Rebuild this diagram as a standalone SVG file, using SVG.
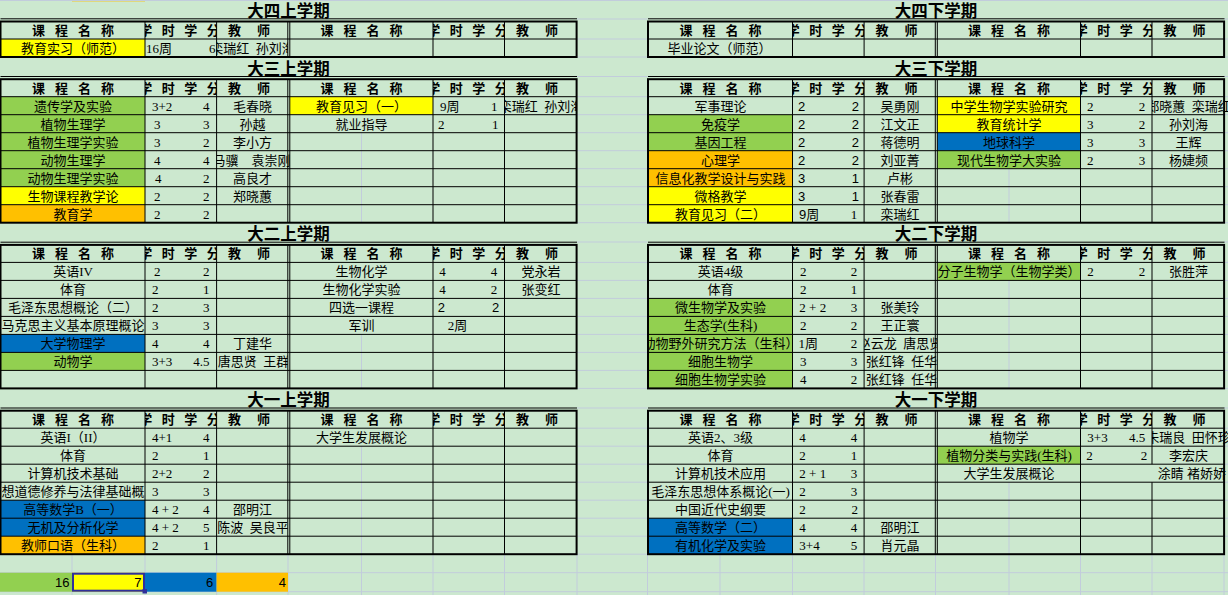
<svg xmlns="http://www.w3.org/2000/svg" width="1228" height="595" viewBox="0 0 1228 595">
<style>
.bg{fill:#CCE8CF}
.fg{fill:#92D050}.fy{fill:#FFFF00}.fo{fill:#FFC000}.fb{fill:#0070C0}
.ln{stroke:#000;stroke-width:1;fill:none}
.bd{stroke:#000;stroke-width:2;fill:none}
.gr{stroke:#C2CCDC;stroke-width:1;fill:none}
text{fill:#000}
.t{font-family:"Noto Sans CJK SC",sans-serif;font-size:16.5px;font-weight:700;text-anchor:middle}
.h{font-family:"Noto Sans CJK SC",sans-serif;font-size:13px;font-weight:700;text-anchor:middle}
.c{font-family:"Liberation Serif","Noto Sans CJK SC",sans-serif;font-size:13px;text-anchor:middle}
.n{font-family:"Liberation Serif","Noto Sans CJK SC",sans-serif;font-size:13px}
.e{text-anchor:end}
.s{font-family:"Liberation Sans","Noto Sans CJK SC",sans-serif}
</style>
<defs>
<clipPath id="cA"><rect x="1" y="-40" width="144" height="200"/></clipPath>
<clipPath id="cAh"><rect x="145" y="-40" width="71.6" height="200"/></clipPath>
<clipPath id="cAt"><rect x="216.6" y="-40" width="71.2" height="200"/></clipPath>
<clipPath id="cAt2"><rect x="216.6" y="-40" width="76.4" height="200"/></clipPath>
<clipPath id="cAt3"><rect x="216.6" y="-40" width="72.7" height="200"/></clipPath>
<clipPath id="cB"><rect x="289.8" y="-40" width="143.2" height="200"/></clipPath>
<clipPath id="cBh"><rect x="433" y="-40" width="71.5" height="200"/></clipPath>
<clipPath id="cBt"><rect x="504.5" y="-40" width="72.1" height="200"/></clipPath>
<clipPath id="cBt2"><rect x="504.5" y="-40" width="200" height="200"/></clipPath>
</defs>
<rect class="bg" x="0" y="0" width="1228" height="595"/>
<g id="gridlines">
<rect x="72" y="0" width="73" height="1.4" class="fo"/>
<path class="gr" d="M0,0.5H1228
M577,19H647.5M577,39H647.5M577,57H647.5M577,76.5H647.5M577,96.7H647.5M577,114.7H647.5M577,132.7H647.5M577,150.7H647.5M577,168.7H647.5M577,186.7H647.5M577,204.7H647.5M577,222.7H647.5
M577,242H647.5M577,262.4H647.5M577,280.4H647.5M577,298.4H647.5M577,316.4H647.5M577,334.4H647.5M577,352.4H647.5M577,370.4H647.5M577,388.4H647.5
M577,408H647.5M577,428.2H647.5M577,446.2H647.5M577,464.2H647.5M577,482.2H647.5M577,500.2H647.5M577,518.2H647.5M577,536.2H647.5M577,554.2H647.5
M1224,19H1228M1224,39H1228M1224,57H1228M1224,76.5H1228M1224,96.7H1228M1224,114.7H1228M1224,132.7H1228M1224,150.7H1228M1224,168.7H1228M1224,186.7H1228M1224,204.7H1228M1224,222.7H1228
M1224,242H1228M1224,262.4H1228M1224,280.4H1228M1224,298.4H1228M1224,316.4H1228M1224,334.4H1228M1224,352.4H1228M1224,370.4H1228M1224,388.4H1228
M1224,408H1228M1224,428.2H1228M1224,446.2H1228M1224,464.2H1228M1224,482.2H1228M1224,500.2H1228M1224,518.2H1228M1224,536.2H1228
M0,572.7H1228M0,591.7H1228
M72,555V595M145,555V595M216.6,555V595M288,555V595M361.5,555V595M433,555V595M504.5,555V595M577,555V595M647.5,555V595M720,555V595M792.5,555V595M864,555V595M935.5,555V595M1009,555V595M1080.5,555V595M1152,555V595M1224,555V595"/>
</g>

<g id="sem-4-1" transform="translate(0,39)">
<rect class="fy" x="0.5" y="0" width="144.5" height="18"/>
<path class="ln" d="M0.5,-20.2H577M145,-17.5V18M216.6,-17.5V18M287.8,-17.5V18M289.8,-17.5V18M433,-17.5V18M504.5,-17.5V18M0.5,0H576.6"/>
<rect class="bd" x="0.5" y="-17.5" width="576.1" height="35.5"/>
<text class="t" x="288.5" y="-22">大四上学期</text>
<text class="h" x="38.5 61.5 84.5 107.5" y="-4">课程名称</text>
<text class="h" x="145.8 168.3 190.8 213.3" y="-4" clip-path="url(#cAh)">学时学分</text>
<text class="h" x="234.5 263.5" y="-4">教师</text>
<text class="h" x="327 350 373 396" y="-4">课程名称</text>
<text class="h" x="433.75 456.25 478.75 501.25" y="-4" clip-path="url(#cBh)">学时学分</text>
<text class="h" x="522.5 551.5" y="-4">教师</text>
<text class="c" x="73" y="14">教育实习（师范）</text>
<text class="n" x="146" y="14">16周</text>
<text class="n e" x="215.5" y="14" clip-path="url(#cAh)">6</text>
<text class="c" x="252.5" y="14" clip-path="url(#cAt)">栾瑞红&#8194;孙刘海</text>
</g>

<g id="sem-4-2" transform="translate(647.5,39)">
<path class="ln" d="M0.5,-20.2H577M145,-17.5V18M216.6,-17.5V18M287.8,-17.5V18M289.8,-17.5V18M433,-17.5V18M504.5,-17.5V18M0.5,0H576.6"/>
<rect class="bd" x="0.5" y="-17.5" width="576.1" height="35.5"/>
<text class="t" x="288.5" y="-22">大四下学期</text>
<text class="h" x="38.5 61.5 84.5 107.5" y="-4">课程名称</text>
<text class="h" x="145.8 168.3 190.8 213.3" y="-4" clip-path="url(#cAh)">学时学分</text>
<text class="h" x="234.5 263.5" y="-4">教师</text>
<text class="h" x="327 350 373 396" y="-4">课程名称</text>
<text class="h" x="433.75 456.25 478.75 501.25" y="-4" clip-path="url(#cBh)">学时学分</text>
<text class="h" x="522.5 551.5" y="-4">教师</text>
<text class="c" x="72" y="14">毕业论文（师范）</text>
</g>

<g id="sem-3-1" transform="translate(0,96.7)">
<rect class="fg" x="0.5" y="0" width="144.5" height="90"/>
<rect class="fy" x="0.5" y="90" width="144.5" height="18"/>
<rect class="fo" x="0.5" y="108" width="144.5" height="18"/>
<rect class="fy" x="289.8" y="0" width="143.2" height="18"/>
<path class="gr" d="M361.5,36V126"/>
<path class="ln" d="M0.5,-20.2H577M145,-17.5V126M216.6,-17.5V126M287.8,-17.5V126M289.8,-17.5V126M433,-17.5V126M504.5,-17.5V126M0.5,0H576.6M0.5,18H576.6M0.5,36H576.6M0.5,54H576.6M0.5,72H576.6M0.5,90H576.6M0.5,108H576.6"/>
<rect class="bd" x="0.5" y="-17.5" width="576.1" height="143.5"/>
<text class="t" x="288.5" y="-22">大三上学期</text>
<text class="h" x="38.5 61.5 84.5 107.5" y="-4">课程名称</text>
<text class="h" x="145.8 168.3 190.8 213.3" y="-4" clip-path="url(#cAh)">学时学分</text>
<text class="h" x="234.5 263.5" y="-4">教师</text>
<text class="h" x="327 350 373 396" y="-4">课程名称</text>
<text class="h" x="433.75 456.25 478.75 501.25" y="-4" clip-path="url(#cBh)">学时学分</text>
<text class="h" x="522.5 551.5" y="-4">教师</text>
<text class="c" x="73" y="14">遗传学及实验</text><text class="n" x="152" y="14">3+2</text><text class="n e" x="209.5" y="14">4</text><text class="c" x="252.5" y="14">毛春晓</text>
<text class="c" x="73" y="32">植物生理学</text><text class="n" x="154" y="32">3</text><text class="n e" x="209.5" y="32">3</text><text class="c" x="252.5" y="32">孙越</text>
<text class="c" x="73" y="50">植物生理学实验</text><text class="n" x="154" y="50">3</text><text class="n e" x="209.5" y="50">2</text><text class="c" x="252.5" y="50">李小方</text>
<text class="c" x="73" y="68">动物生理学</text><text class="n" x="154" y="68">4</text><text class="n e" x="209.5" y="68">4</text><text class="c" x="251.5" y="68" clip-path="url(#cAt2)">马骥　袁崇刚</text>
<text class="c" x="73" y="86">动物生理学实验</text><text class="n" x="155" y="86">4</text><text class="n e" x="209.5" y="86">2</text><text class="c" x="252.5" y="86">高良才</text>
<text class="c" x="73" y="104">生物课程教学论</text><text class="n" x="154" y="104">2</text><text class="n e" x="209.5" y="104">2</text><text class="c" x="252.5" y="104">郑晓蕙</text>
<text class="c" x="73" y="122">教育学</text><text class="n" x="154" y="122">2</text><text class="n e" x="209.5" y="122">2</text>
<text class="c" x="361.5" y="14">教育见习（一）</text><text class="n" x="440" y="14">9周</text><text class="n e" x="497.5" y="14">1</text><text class="c" x="541" y="14" clip-path="url(#cBt)">栾瑞红&#8194;孙刘海</text>
<text class="c" x="361.5" y="32">就业指导</text><text class="n" x="438" y="32">2</text><text class="n e" x="498.5" y="32">1</text>
</g>

<g id="sem-3-2" transform="translate(647.5,96.7)">
<rect class="fg" x="0.5" y="18" width="144.5" height="36"/>
<rect class="fo" x="0.5" y="54" width="144.5" height="36"/>
<rect class="fy" x="0.5" y="90" width="144.5" height="36"/>
<rect class="fy" x="289.8" y="0" width="143.2" height="36"/>
<rect class="fb" x="289.8" y="36" width="143.2" height="18"/>
<rect class="fg" x="289.8" y="54" width="143.2" height="18"/>
<path class="gr" d="M361.5,72V126"/>
<path class="ln" d="M0.5,-20.2H577M145,-17.5V126M216.6,-17.5V126M287.8,-17.5V126M289.8,-17.5V126M433,-17.5V126M504.5,-17.5V126M0.5,0H576.6M0.5,18H576.6M0.5,36H576.6M0.5,54H576.6M0.5,72H576.6M0.5,90H576.6M0.5,108H576.6"/>
<rect class="bd" x="0.5" y="-17.5" width="576.1" height="143.5"/>
<text class="t" x="288.5" y="-22">大三下学期</text>
<text class="h" x="38.5 61.5 84.5 107.5" y="-4">课程名称</text>
<text class="h" x="145.8 168.3 190.8 213.3" y="-4" clip-path="url(#cAh)">学时学分</text>
<text class="h" x="234.5 263.5" y="-4">教师</text>
<text class="h" x="327 350 373 396" y="-4">课程名称</text>
<text class="h" x="433.75 456.25 478.75 501.25" y="-4" clip-path="url(#cBh)">学时学分</text>
<text class="h" x="522.5 551.5" y="-4">教师</text>
<text class="c" x="73" y="14">军事理论</text><text class="n s" x="150.5" y="14">2</text><text class="n s e" x="211.5" y="14">2</text><text class="c" x="252.5" y="14">吴勇刚</text>
<text class="c" x="73" y="32">免疫学</text><text class="n s" x="150.5" y="32">2</text><text class="n s e" x="211.5" y="32">2</text><text class="c" x="252.5" y="32">江文正</text>
<text class="c" x="73" y="50">基因工程</text><text class="n s" x="150.5" y="50">2</text><text class="n s e" x="211.5" y="50">2</text><text class="c" x="252.5" y="50">蒋德明</text>
<text class="c" x="73" y="68">心理学</text><text class="n s" x="150.5" y="68">2</text><text class="n s e" x="211.5" y="68">2</text><text class="c" x="252.5" y="68">刘亚菁</text>
<text class="c" x="73" y="86">信息化教学设计与实践</text><text class="n s" x="150.5" y="86">3</text><text class="n s e" x="211.5" y="86">1</text><text class="c" x="252.5" y="86">卢彬</text>
<text class="c" x="73" y="104">微格教学</text><text class="n s" x="150.5" y="104">3</text><text class="n s e" x="211.5" y="104">1</text><text class="c" x="252.5" y="104">张春雷</text>
<text class="c" x="73" y="122">教育见习（二）</text><text class="n s" x="151.5" y="122">9周</text><text class="n e" x="209.8" y="122">1</text><text class="c" x="252.5" y="122">栾瑞红</text>
<text class="c" x="361.5" y="14">中学生物学实验研究</text><text class="n" x="439.5" y="14">2</text><text class="n e" x="497.8" y="14">2</text><text class="c" x="541" y="14" clip-path="url(#cBt2)">郑晓蕙&#8194;栾瑞红</text>
<text class="c" x="361.5" y="32">教育统计学</text><text class="n" x="439.5" y="32">3</text><text class="n e" x="497.8" y="32">2</text><text class="c" x="541" y="32">孙刘海</text>
<text class="c" x="361.5" y="50">地球科学</text><text class="n" x="439.5" y="50">3</text><text class="n e" x="497.8" y="50">3</text><text class="c" x="541" y="50">王辉</text>
<text class="c" x="361.5" y="68">现代生物学大实验</text><text class="n" x="439.5" y="68">2</text><text class="n e" x="497.8" y="68">3</text><text class="c" x="541" y="68">杨婕频</text>
</g>

<g id="sem-2-1" transform="translate(0,262.4)">
<rect class="fb" x="0.5" y="72" width="144.5" height="18"/>
<rect class="fg" x="0.5" y="90" width="144.5" height="18"/>
<path class="gr" d="M361.5,72V126"/>
<path class="ln" d="M0.5,-20.2H577M145,-17.5V126M216.6,-17.5V126M287.8,-17.5V126M289.8,-17.5V126M433,-17.5V126M504.5,-17.5V126M0.5,0H576.6M0.5,18H576.6M0.5,36H576.6M0.5,54H576.6M0.5,72H576.6M0.5,90H576.6M0.5,108H576.6"/>
<rect class="bd" x="0.5" y="-17.5" width="576.1" height="143.5"/>
<text class="t" x="288.5" y="-22">大二上学期</text>
<text class="h" x="38.5 61.5 84.5 107.5" y="-4">课程名称</text>
<text class="h" x="145.8 168.3 190.8 213.3" y="-4" clip-path="url(#cAh)">学时学分</text>
<text class="h" x="234.5 263.5" y="-4">教师</text>
<text class="h" x="327 350 373 396" y="-4">课程名称</text>
<text class="h" x="433.75 456.25 478.75 501.25" y="-4" clip-path="url(#cBh)">学时学分</text>
<text class="h" x="522.5 551.5" y="-4">教师</text>
<text class="c" x="73" y="14">英语IV</text><text class="n" x="154" y="14">2</text><text class="n e" x="209.5" y="14">2</text>
<text class="c" x="73" y="32">体育</text><text class="n" x="152" y="32">2</text><text class="n e" x="209.5" y="32">1</text>
<text class="c" x="73" y="50">毛泽东思想概论（二）</text><text class="n" x="152" y="50">2</text><text class="n e" x="209.5" y="50">3</text>
<text class="c" x="73" y="68" clip-path="url(#cA)">马克思主义基本原理概论</text><text class="n" x="152" y="68">3</text><text class="n e" x="209.5" y="68">3</text>
<text class="c" x="73" y="86">大学物理学</text><text class="n" x="152" y="86">4</text><text class="n e" x="209.5" y="86">4</text><text class="c" x="252.5" y="86">丁建华</text>
<text class="c" x="73" y="104">动物学</text><text class="n" x="152" y="104">3+3</text><text class="n e" x="209.5" y="104">4.5</text><text class="c" x="253.5" y="104" clip-path="url(#cAt)">唐思贤&#8194;王群</text>
<text class="c" x="361.5" y="14">生物化学</text><text class="n" x="439.3" y="14">4</text><text class="n e" x="497.3" y="14">4</text><text class="c" x="541" y="14">党永岩</text>
<text class="c" x="361.5" y="32">生物化学实验</text><text class="n" x="439.3" y="32">4</text><text class="n e" x="497.3" y="32">2</text><text class="c" x="541" y="32">张变红</text>
<text class="c" x="361.5" y="50">四选一课程</text><text class="n s" x="437.7" y="50">2</text><text class="n s e" x="499.3" y="50">2</text>
<text class="c" x="361.5" y="68">军训</text><text class="n" x="447.7" y="68">2周</text>
</g>

<g id="sem-2-2" transform="translate(647.5,262.4)">
<rect class="fg" x="0.5" y="36" width="144.5" height="90"/>
<rect class="fg" x="289.8" y="0" width="143.2" height="18"/>
<path class="gr" d="M361.5,18V126"/>
<path class="ln" d="M0.5,-20.2H577M145,-17.5V126M216.6,-17.5V126M287.8,-17.5V126M289.8,-17.5V126M433,-17.5V126M504.5,-17.5V126M0.5,0H576.6M0.5,18H576.6M0.5,36H576.6M0.5,54H576.6M0.5,72H576.6M0.5,90H576.6M0.5,108H576.6"/>
<rect class="bd" x="0.5" y="-17.5" width="576.1" height="143.5"/>
<text class="t" x="288.5" y="-22">大二下学期</text>
<text class="h" x="38.5 61.5 84.5 107.5" y="-4">课程名称</text>
<text class="h" x="145.8 168.3 190.8 213.3" y="-4" clip-path="url(#cAh)">学时学分</text>
<text class="h" x="234.5 263.5" y="-4">教师</text>
<text class="h" x="327 350 373 396" y="-4">课程名称</text>
<text class="h" x="433.75 456.25 478.75 501.25" y="-4" clip-path="url(#cBh)">学时学分</text>
<text class="h" x="522.5 551.5" y="-4">教师</text>
<text class="c" x="73" y="14">英语4级</text><text class="n" x="152.5" y="14">2</text><text class="n e" x="209.8" y="14">2</text>
<text class="c" x="73" y="32">体育</text><text class="n" x="152.5" y="32">2</text><text class="n e" x="209.8" y="32">1</text>
<text class="c" x="73" y="50">微生物学及实验</text><text class="n" x="151.8" y="50">2 + 2</text><text class="n e" x="209.8" y="50">3</text><text class="c" x="252.5" y="50">张美玲</text>
<text class="c" x="73" y="68">生态学(生科)</text><text class="n" x="152.5" y="68">2</text><text class="n e" x="209.8" y="68">2</text><text class="c" x="252.5" y="68">王正寰</text>
<text class="c" x="73" y="86" clip-path="url(#cA)">动物野外研究方法（生科）</text><text class="n" x="151" y="86">1周</text><text class="n e" x="209.8" y="86">2</text><text class="c" x="252.5" y="86" clip-path="url(#cAt3)">赵云龙&#8194;唐思贤</text>
<text class="c" x="73" y="104">细胞生物学</text><text class="n" x="152.5" y="104">3</text><text class="n e" x="209.8" y="104">3</text><text class="c" x="254" y="104" clip-path="url(#cAt3)">张红锋&#8194;任华</text>
<text class="c" x="73" y="122">细胞生物学实验</text><text class="n" x="152.5" y="122">4</text><text class="n e" x="209.8" y="122">2</text><text class="c" x="254" y="122" clip-path="url(#cAt3)">张红锋&#8194;任华</text>
<text class="c" x="361.5" y="14" clip-path="url(#cB)">分子生物学（生物学类）</text><text class="n" x="439.8" y="14">2</text><text class="n e" x="497.8" y="14">2</text><text class="c" x="541" y="14">张胜萍</text>
</g>

<g id="sem-1-1" transform="translate(0,428.2)">
<rect class="fb" x="0.5" y="72" width="144.5" height="36"/>
<rect class="fo" x="0.5" y="108" width="144.5" height="18"/>
<path class="gr" d="M361.5,18V126"/>
<path class="ln" d="M0.5,-20.2H577M145,-17.5V126M216.6,-17.5V126M287.8,-17.5V126M289.8,-17.5V126M433,-17.5V126M504.5,-17.5V126M0.5,0H576.6M0.5,18H576.6M0.5,36H576.6M0.5,54H576.6M0.5,72H576.6M0.5,90H576.6M0.5,108H576.6"/>
<rect class="bd" x="0.5" y="-17.5" width="576.1" height="143.5"/>
<text class="t" x="288.5" y="-22">大一上学期</text>
<text class="h" x="38.5 61.5 84.5 107.5" y="-4">课程名称</text>
<text class="h" x="145.8 168.3 190.8 213.3" y="-4" clip-path="url(#cAh)">学时学分</text>
<text class="h" x="234.5 263.5" y="-4">教师</text>
<text class="h" x="327 350 373 396" y="-4">课程名称</text>
<text class="h" x="433.75 456.25 478.75 501.25" y="-4" clip-path="url(#cBh)">学时学分</text>
<text class="h" x="522.5 551.5" y="-4">教师</text>
<text class="c" x="73" y="14">英语I（II）</text><text class="n" x="152" y="14">4+1</text><text class="n e" x="209.5" y="14">4</text>
<text class="c" x="73" y="32">体育</text><text class="n" x="152" y="32">2</text><text class="n e" x="209.5" y="32">1</text>
<text class="c" x="73" y="50">计算机技术基础</text><text class="n" x="152" y="50">2+2</text><text class="n e" x="209.5" y="50">2</text>
<text class="c" x="73" y="68" clip-path="url(#cA)">想道德修养与法律基础概</text><text class="n" x="152" y="68">3</text><text class="n e" x="209.5" y="68">3</text>
<text class="c" x="73" y="86">高等数学B（一）</text><text class="n" x="152" y="86">4 + 2</text><text class="n e" x="209.5" y="86">4</text><text class="c" x="252.5" y="86">邵明江</text>
<text class="c" x="73" y="104">无机及分析化学</text><text class="n" x="152" y="104">4 + 2</text><text class="n e" x="209.5" y="104">5</text><text class="c" x="253" y="104" clip-path="url(#cAt)">陈波&#8194;吴良平</text>
<text class="c" x="73" y="122">教师口语（生科）</text><text class="n" x="152" y="122">2</text><text class="n e" x="209.5" y="122">1</text>
<text class="c" x="361.5" y="14">大学生发展概论</text>
</g>

<g id="sem-1-2" transform="translate(647.5,428.2)">
<rect class="fb" x="0.5" y="90" width="144.5" height="36"/>
<rect class="fg" x="289.8" y="18" width="143.2" height="18"/>
<path class="gr" d="M361.5,54V126"/>
<path class="ln" d="M0.5,-20.2H577M145,-17.5V126M216.6,-17.5V126M287.8,-17.5V126M289.8,-17.5V126M433,-17.5V126M504.5,-17.5V36M504.5,54V126M0.5,0H576.6M0.5,18H576.6M0.5,36H576.6M0.5,54H576.6M0.5,72H576.6M0.5,90H576.6M0.5,108H576.6"/>
<rect class="bd" x="0.5" y="-17.5" width="576.1" height="143.5"/>
<text class="t" x="288.5" y="-22">大一下学期</text>
<text class="h" x="38.5 61.5 84.5 107.5" y="-4">课程名称</text>
<text class="h" x="145.8 168.3 190.8 213.3" y="-4" clip-path="url(#cAh)">学时学分</text>
<text class="h" x="234.5 263.5" y="-4">教师</text>
<text class="h" x="327 350 373 396" y="-4">课程名称</text>
<text class="h" x="433.75 456.25 478.75 501.25" y="-4" clip-path="url(#cBh)">学时学分</text>
<text class="h" x="522.5 551.5" y="-4">教师</text>
<text class="c" x="73" y="14">英语2、3级</text><text class="n" x="151.8" y="14">4</text><text class="n e" x="209.8" y="14">4</text>
<text class="c" x="73" y="32">体育</text><text class="n" x="151.8" y="32">2</text><text class="n e" x="209.8" y="32">1</text>
<text class="c" x="73" y="50">计算机技术应用</text><text class="n" x="151.8" y="50">2 + 1</text><text class="n e" x="209.8" y="50">3</text>
<text class="c" x="73" y="68" clip-path="url(#cA)">毛泽东思想体系概论(一)</text><text class="n" x="151.8" y="68">2</text><text class="n e" x="209.8" y="68">3</text>
<text class="c" x="73" y="86">中国近代史纲要</text><text class="n" x="151.8" y="86">2</text><text class="n e" x="210.5" y="86">2</text>
<text class="c" x="73" y="104">高等数学（二）</text><text class="n" x="151.8" y="104">4</text><text class="n e" x="209.8" y="104">4</text><text class="c" x="252.5" y="104">邵明江</text>
<text class="c" x="73" y="122">有机化学及实验</text><text class="n" x="151.8" y="122">3+4</text><text class="n e" x="209.8" y="122">5</text><text class="c" x="252.5" y="122">肖元晶</text>
<text class="c" x="361.5" y="14">植物学</text><text class="n" x="439.8" y="14">3+3</text><text class="n e" x="497.8" y="14">4.5</text><text class="c" x="541" y="14" clip-path="url(#cBt2)">朱瑞良&#8194;田怀珍</text>
<text class="c" x="361.5" y="32">植物分类与实践(生科)</text><text class="n" x="438.8" y="32">2</text><text class="n e" x="499.8" y="32">2</text><text class="c" x="541" y="32">李宏庆</text>
<text class="c" x="361.5" y="50">大学生发展概论</text><text class="n" x="510.3" y="50">涂睛 褚娇娇</text>
</g>

<g id="summary">
<rect class="fg" x="0" y="572.7" width="72" height="19"/>
<rect class="fy" x="72" y="572.7" width="73" height="19"/>
<rect class="fb" x="145" y="572.7" width="71.6" height="19"/>
<rect class="fo" x="216.6" y="572.7" width="71.4" height="19"/>
<rect x="73" y="573.7" width="71" height="17" fill="none" stroke="#30309A" stroke-width="2"/>
<rect x="142.5" y="589" width="4.5" height="4.5" fill="#30309A"/>
<text class="n s e" x="69.5" y="587">16</text>
<text class="n s e" x="141.5" y="587">7</text>
<text class="n s e" x="213.3" y="587">6</text>
<text class="n s e" x="286" y="587">4</text>
</g>
</svg>
